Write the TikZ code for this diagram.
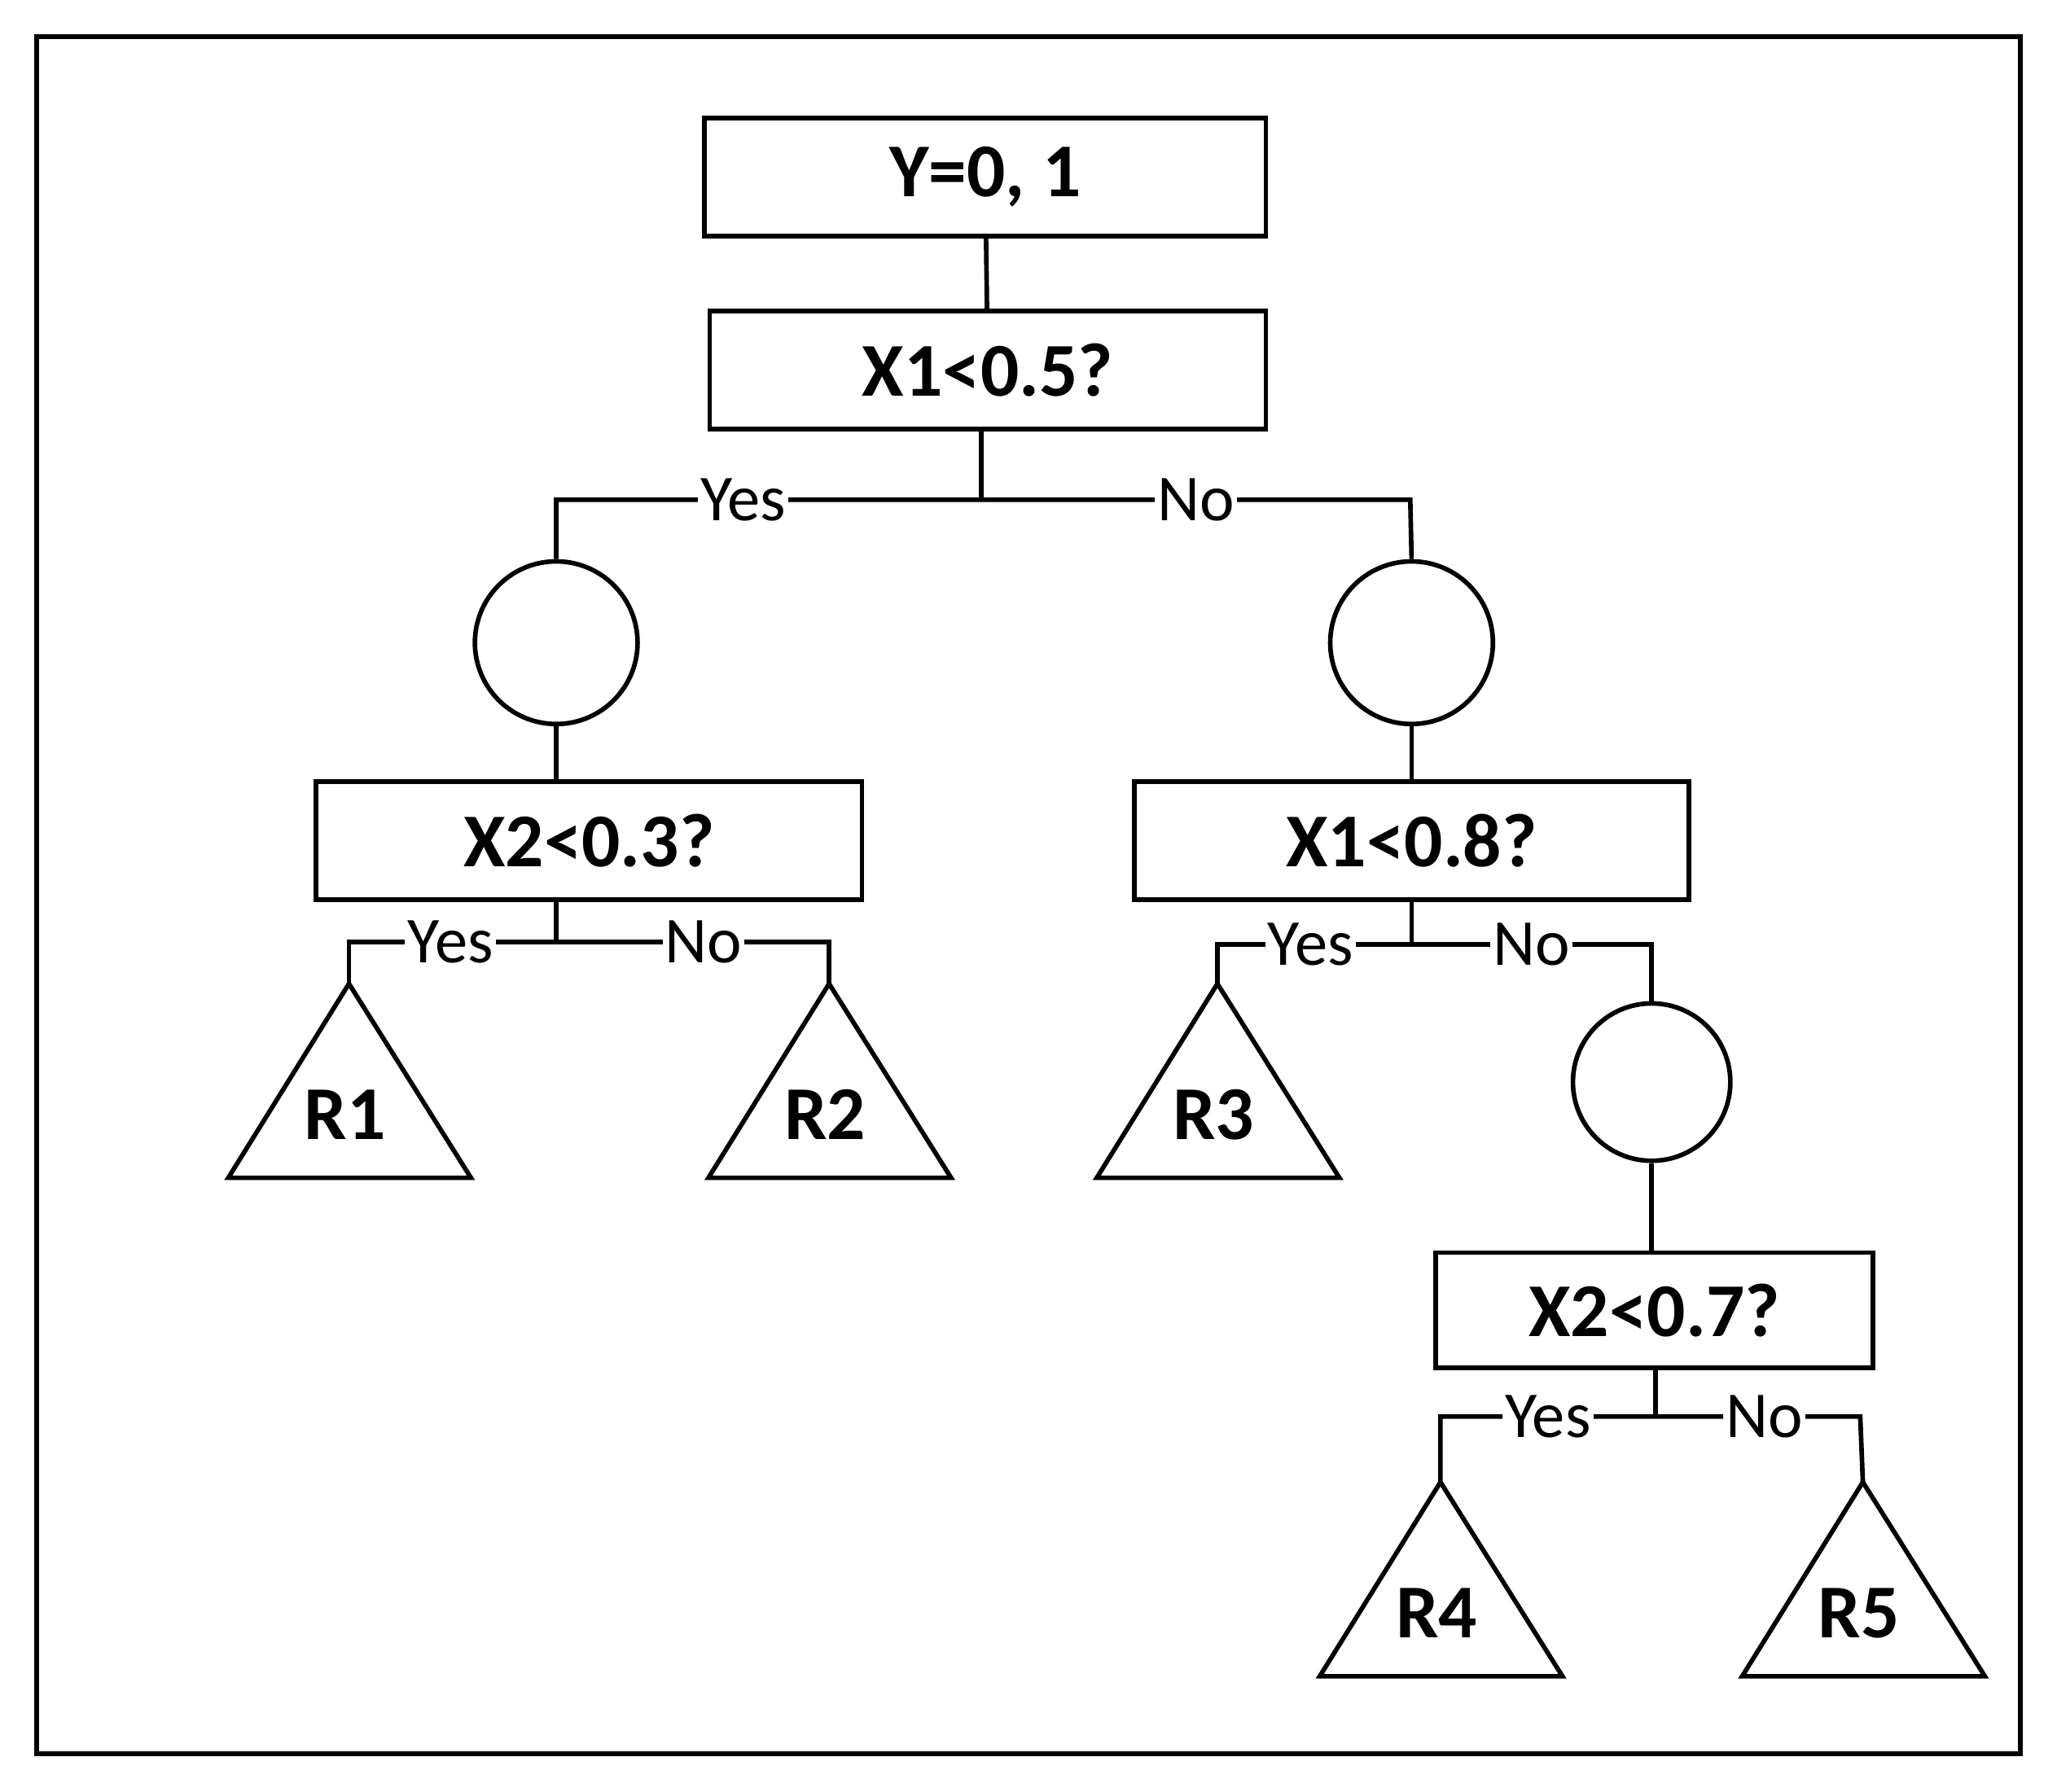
\documentclass[tikz,border=0pt]{standalone}
\usepackage{fontspec}
\setmainfont{Carlito}
\begin{document}
\begin{tikzpicture}[x=1pt,y=-1pt,line width=3.5pt,
 qbox/.style={draw,minimum height=90pt,font=\fontsize{58}{60}\selectfont\bfseries},
 lbl/.style={fill=white,inner sep=2pt,font=\fontsize{50}{52}\selectfont},
 circ/.style={draw,circle,minimum size=124pt},
 leaf/.style={font=\fontsize{58}{60}\selectfont\bfseries}]
\useasboundingbox (0,0) rectangle (1568,1366);
\draw[line width=4pt] (28,28) rectangle (1540,1337);
\node[qbox,minimum width=428pt] (y) at (751,135) {Y=0, 1};
\node[qbox,minimum width=424pt] (q1) at (753,282) {X1<0.5?};
\node[circ] (c1) at (424,490) {};
\node[circ] (c2) at (1076,490) {};
\node[qbox,minimum width=416pt] (q2) at (449,641) {X2<0.3?};
\node[qbox,minimum width=423pt] (q3) at (1076,641) {X1<0.8?};
\node[circ,minimum size=120pt] (c3) at (1259,825) {};
\node[qbox,minimum width=333pt,minimum height=88pt] (q4) at (1261,999) {X2<0.7?};
% triangles
\foreach \n/\ax/\ay in {R1/266/750,R2/632/750,R3/928/750,R4/1098/1130,R5/1420/1130}{
 \coordinate (\n) at (\ax,\ay);
 \draw (\n) -- ++(-92,148) -- ++(185,0) -- cycle;
 \node[leaf] at (\ax-3,\ay+100) {\n};
}
\draw (y) -- (q1);
\draw (q1.south -| 748,0) -- (748,381);
\draw (c1.north) |- (748,381) node[lbl,pos=0.72] {Yes} -- (1075,381) node[lbl,pos=0.5] {No} -- (c2.north);
\draw (c1) -- (c1 |- q2.north);
\draw (c2) -- (q3);
\draw (q2.south -| 424,0) -- (424,718);
\draw (R1) -- (266,718) -- (424,718) node[lbl,pos=0.49] {Yes} -- (632,718) node[lbl,pos=0.54] {No} -- (R2);
\draw (q3.south) -- (1076,720);
\draw (R3) -- (928,720) -- (1076,720) node[lbl,pos=0.48] {Yes} -- (1259,720) node[lbl,pos=0.5] {No} -- (c3.north);
\draw (c3.south) -- (c3.south |- q4.north);
\draw (q4.south -| 1262,0) -- (1262,1080);
\draw (R4) -- (1098,1080) -- (1262,1080) node[lbl,pos=0.5] {Yes} -- (1418,1080) node[lbl,pos=0.53] {No} -- (R5);
\end{tikzpicture}
\end{document}
